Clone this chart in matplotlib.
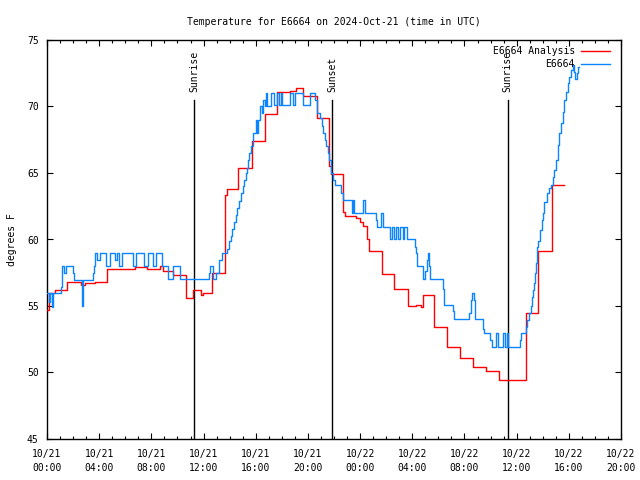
import matplotlib
matplotlib.use('Agg')
import matplotlib.pyplot as plt
import matplotlib.dates as mdates
import pandas as pd
import numpy as np

# ---------------- data (hours since 2024-10-21 00:00 UTC, degrees F) -------------
analysis_hours = [0.00, 0.15, 0.60, 1.56, 2.58, 2.91, 3.68, 4.57, 6.75, 7.69, 8.66, 8.92,
                  9.68, 10.63, 11.22, 11.78, 11.94, 12.63, 13.65, 13.78, 14.67, 15.69,
                  16.71, 17.65, 18.63, 19.09, 19.60, 20.72, 21.64, 21.77, 22.67, 22.84,
                  23.69, 24.00, 24.20, 24.55, 24.71, 25.66, 26.62, 27.65, 28.29, 28.67,
                  28.85, 29.67, 30.69, 31.66, 32.63, 33.65, 34.65, 36.70, 36.90, 37.62,
                  38.69, 39.65]
analysis_temp = [54.7, 56.0, 56.2, 56.8, 56.6, 56.75, 56.8, 57.8, 57.9, 57.8, 58.0, 57.6,
                 57.3, 55.6, 56.2, 55.8, 55.95, 57.5, 63.35, 63.8, 65.4, 67.4,
                 69.4, 71.1, 71.2, 71.4, 70.8, 69.1, 65.5, 64.9, 62.1, 61.8,
                 61.6, 61.3, 61.0, 60.0, 59.1, 57.4, 56.25, 55.0, 55.1, 54.95,
                 55.8, 53.4, 51.9, 51.1, 50.45, 50.1, 49.45, 54.45, 54.5, 59.1,
                 64.1, 64.1]

obs_hours = [0.00, 0.15, 0.23, 0.38, 0.46, 1.05, 1.13, 1.17, 1.30, 1.46, 1.97, 2.07,
             2.66, 2.71, 2.78, 3.50, 3.60, 3.68, 3.87, 4.06, 4.52, 4.83, 5.21, 5.33,
             5.52, 5.75, 6.59, 6.82, 7.44, 7.74, 8.13, 8.36, 8.82, 9.30, 9.68, 10.20,
             12.44, 12.50, 12.75, 12.96, 13.21, 13.39, 13.78, 13.95, 14.08, 14.21,
             14.34, 14.49, 14.59, 14.74, 14.87, 15.00, 15.10, 15.23, 15.36, 15.43,
             15.51, 15.62, 15.77, 16.02, 16.12, 16.20, 16.33, 16.46, 16.58, 16.71,
             16.79, 16.89, 17.15, 17.40, 17.61, 17.81, 17.94, 18.04, 18.63, 18.88,
             19.01, 19.60, 20.16, 20.54, 20.67, 20.93, 21.06, 21.18, 21.31, 21.39,
             21.52, 21.64, 21.75, 21.95, 22.08, 22.51, 22.67, 23.36, 23.46, 23.56,
             24.20, 24.38, 25.22, 25.32, 25.58, 25.73, 26.29, 26.45, 26.60, 26.75,
             26.91, 27.06, 27.27, 27.37, 27.57, 28.21, 28.29, 28.39, 28.80, 28.97,
             29.11, 29.18, 29.26, 29.36, 30.33, 30.43, 31.15, 31.20, 32.37, 32.48,
             32.56, 32.74, 32.81, 33.40, 33.52, 33.96, 34.09, 34.42, 34.55, 34.98,
             35.11, 35.29, 35.37, 36.26, 36.34, 36.72, 36.82, 36.97, 37.10, 37.20,
             37.28, 37.36, 37.43, 37.49, 37.59, 37.66, 37.79, 37.92, 38.00, 38.10,
             38.31, 38.51, 38.61, 38.77, 38.89, 38.99, 39.15, 39.27, 39.40, 39.53,
             39.63, 39.76, 39.92, 40.04, 40.17, 40.30, 40.40, 40.50, 40.61, 40.73,
             40.78]
obs_temp = [56.0, 55.3, 56.0, 54.95, 56.0, 56.45, 57.45, 58.0, 57.45, 58.0, 57.45, 56.95,
            55.9, 55.0, 56.95, 57.45, 58.0, 59.0, 58.45, 59.0, 58.0, 59.0, 58.45, 59.0,
            58.0, 59.0, 58.0, 59.0, 58.0, 59.0, 58.0, 59.0, 58.0, 57.0, 58.0, 57.0,
            57.5, 58.0, 57.0, 57.5, 58.45, 59.0, 59.3, 59.85, 60.3, 60.8,
            61.3, 61.85, 62.35, 62.9, 63.5, 64.0, 64.5, 65.0, 65.4, 66.0,
            66.5, 67.0, 68.0, 69.0, 68.0, 69.0, 70.0, 69.5, 70.5, 70.0,
            71.0, 70.0, 71.0, 70.1, 71.0, 70.1, 71.0, 70.1, 71.0, 70.1,
            71.0, 70.1, 71.0, 70.5, 69.5, 69.1, 68.5, 68.0, 67.5, 67.0,
            66.5, 66.0, 65.0, 64.5, 64.1, 63.5, 63.0, 62.0, 63.0, 62.0,
            63.0, 62.0, 61.5, 60.95, 62.0, 60.95, 60.0, 60.95, 60.0, 60.95,
            60.0, 60.95, 60.0, 60.95, 60.0, 59.45, 59.0, 58.0, 57.0, 57.6,
            58.45, 59.0, 58.0, 57.0, 56.3, 55.1, 54.6, 54.0, 54.45, 55.45,
            55.95, 55.45, 54.0, 53.3, 52.95, 52.45, 51.95, 52.95, 51.95, 52.95,
            51.95, 52.95, 51.95, 52.45, 53.0, 53.45, 53.95, 54.45, 55.0, 55.7,
            56.2, 56.7, 57.5, 58.2, 59.45, 59.9, 60.7, 61.45, 62.0, 62.85,
            63.5, 63.9, 64.1, 64.7, 65.2, 66.0, 67.1, 68.0, 68.75, 69.6,
            70.5, 71.1, 71.75, 72.25, 72.75, 73.1, 72.6, 72.1, 72.5, 73.0,
            73.0]

sun_labels = ['Sunrise', 'Sunset', 'Sunrise']
sun_hours = [11.27, 21.85, 35.32]

series_labels = ['E6664 Analysis', 'E6664']
title = 'Temperature for E6664 on 2024-Oct-21 (time in UTC)'
ylabel = 'degrees F'

# ---------------- plotting --------------------------------------------------------
start = pd.Timestamp('2024-10-21 00:00')
def to_time(h):
    return (start + pd.to_timedelta(np.asarray(h, dtype=float), unit='h')).to_pydatetime()

FONT = 'DejaVu Sans Mono'
FS = 7
plt.rcParams['font.family'] = FONT
plt.rcParams['font.size'] = FS

fig = plt.figure(figsize=(6.4, 4.8), dpi=100)
ax = fig.add_axes([47/640, 41/480, (621-47)/640, (439-40)/480])

ax.plot(to_time(analysis_hours), analysis_temp, drawstyle='steps-post',
        color='#ff0000', lw=1.0, label=series_labels[0], zorder=3)
ax.plot(to_time(obs_hours), obs_temp, drawstyle='steps-post',
        color='#0a84ff', lw=1.0, label=series_labels[1], zorder=4)

ytop_line = 70.5
for lab, h in zip(sun_labels, sun_hours):
    t = to_time([h])[0]
    ax.plot([t, t], [45, ytop_line], color='black', lw=1.0, zorder=2)
    ax.text(t, ytop_line + 0.6, lab, rotation=90, ha='center', va='bottom',
            fontsize=FS, family=FONT)

ax.set_xlim(to_time([0])[0], to_time([44])[0])
ax.set_ylim(45, 75)
ax.set_yticks([45, 50, 55, 60, 65, 70, 75])

ax.xaxis.set_major_locator(mdates.HourLocator(byhour=[0, 4, 8, 12, 16, 20]))
ax.xaxis.set_major_formatter(mdates.DateFormatter('%m/%d\n%H:%M'))
ax.xaxis.set_minor_locator(mdates.HourLocator())

ax.tick_params(axis='both', which='both', direction='in', top=True, right=True,
               labelsize=FS, width=0.8, color='black')
ax.tick_params(axis='x', which='major', length=4.5, pad=7)
ax.tick_params(axis='x', which='minor', length=2.2)
ax.tick_params(axis='y', which='major', length=4.0, pad=6)
for lbl in ax.get_xticklabels():
    lbl.set_linespacing(1.5)

for s in ax.spines.values():
    s.set_linewidth(1.0)
    s.set_color('black')

ax.set_title(title, fontsize=FS, pad=11)
ax.set_ylabel(ylabel, fontsize=FS)
ax.yaxis.set_label_coords(-0.053, 0.5)

leg = ax.legend(loc='upper right', bbox_to_anchor=(610/640, 434/480),
                bbox_transform=fig.transFigure, frameon=False, markerfirst=False,
                fontsize=FS, handlelength=3.0, handletextpad=0.6, labelspacing=0.3,
                borderpad=0, borderaxespad=0)

fig.savefig('out.png', dpi=100)
